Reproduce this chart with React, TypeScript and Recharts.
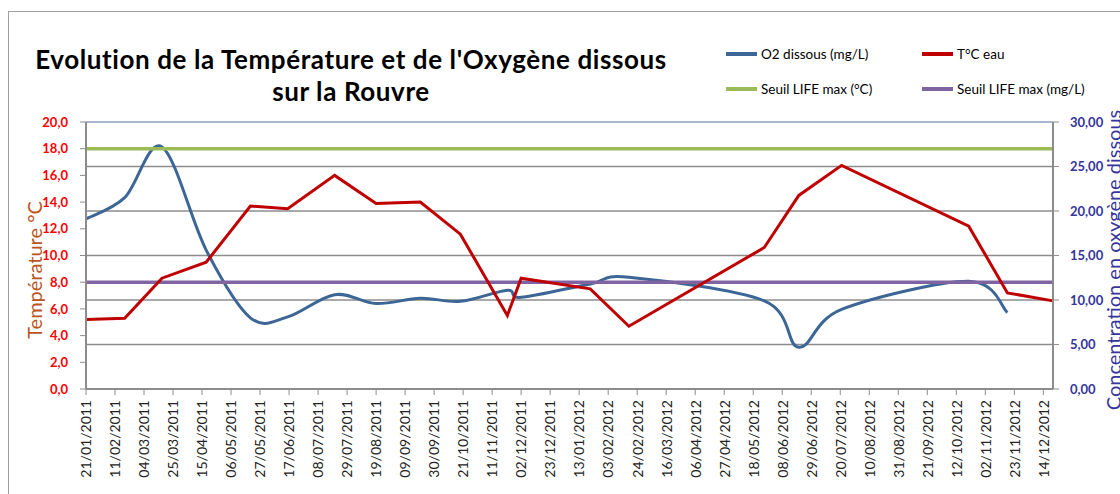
import React from 'react';
import { CartesianGrid, Line, LineChart, ReferenceLine, XAxis, YAxis } from 'recharts';

// dates de mesure (jj/mm/aaaa)
const DATES = [
  '21/01/2011', '18/02/2011', '17/03/2011', '18/04/2011', '20/05/2011', '16/06/2011', '20/07/2011',
  '19/08/2011', '20/09/2011', '19/10/2011', '22/11/2011', '02/12/2011', '21/01/2012', '18/02/2012',
  '26/05/2012', '20/06/2012', '21/07/2012', '21/10/2012', '18/11/2012', '21/12/2012',
];
const TEMP = [5.2, 5.3, 8.3, 9.5, 13.7, 13.5, 16.0, 13.9, 14.0, 11.6, 5.5, 8.3, 7.5, 4.7, 10.6, 14.5, 16.75, 12.2, 7.2, 6.6];
const O2 = [19.1, 21.5, 27.2, 15.6, 8.0, 8.1, 10.6, 9.6, 10.2, 9.85, 11.1, 10.3, 11.8, 12.55, 9.9, 4.7, 8.95, 12.1, 8.6];

const SEUIL_DATES = ['21/01/2011', '21/12/2012'];
const SEUIL_TEMP = [18, 18];
const SEUIL_O2 = [12, 12];

const TEMP_TICKS = [0, 2, 4, 6, 8, 10, 12, 14, 16, 18, 20];
const O2_TICKS = [0, 5, 10, 15, 20, 25, 30];
const X_LABELS = [
  '21/01/2011', '11/02/2011', '04/03/2011', '25/03/2011', '15/04/2011', '06/05/2011', '27/05/2011',
  '17/06/2011', '08/07/2011', '29/07/2011', '19/08/2011', '09/09/2011', '30/09/2011', '21/10/2011',
  '11/11/2011', '02/12/2011', '23/12/2011', '13/01/2012', '03/02/2012', '24/02/2012', '16/03/2012',
  '06/04/2012', '27/04/2012', '18/05/2012', '08/06/2012', '29/06/2012', '20/07/2012', '10/08/2012',
  '31/08/2012', '21/09/2012', '12/10/2012', '02/11/2012', '23/11/2012', '14/12/2012',
];
const TITLE = ["Evolution de la Température et de l'Oxygène dissous", 'sur la Rouvre'];

const FONT = 'Lato, "Open Sans", sans-serif';
const GRID = '#8C8C8C';
const BLUE = '#3B6696';
const RED = '#C00000';
const GREEN = '#9BBB59';
const PURPLE = '#8064A2';
const NAVY = '#35359A';

const toDay = (s: string) => {
  const [d, m, y] = s.split('/').map(Number);
  return Math.round((Date.UTC(y, m - 1, d) - Date.UTC(2011, 0, 21)) / 86400000);
};

const tempData = DATES.map((d, i) => ({ day: toDay(d), v: TEMP[i] }));
const o2Data = O2.map((v, i) => ({ day: toDay(DATES[i]), v }));
const seuilTempData = SEUIL_DATES.map((d, i) => ({ day: toDay(d), v: SEUIL_TEMP[i] }));
const seuilO2Data = SEUIL_DATES.map((d, i) => ({ day: toDay(d), v: SEUIL_O2[i] }));
const xTicks = X_LABELS.map(toDay);
const xLabel = new Map(X_LABELS.map((l) => [toDay(l), l]));

// lissage façon Excel (Bézier de Catmull-Rom)
const excelCurve = (context: any) => {
  let pts: [number, number][] = [];
  return {
    areaStart() {},
    areaEnd() {},
    lineStart() {
      pts = [];
    },
    point(x: number, y: number) {
      pts.push([x, y]);
    },
    lineEnd() {
      if (!pts.length) return;
      context.moveTo(pts[0][0], pts[0][1]);
      for (let i = 0; i < pts.length - 1; i++) {
        const p0 = pts[i - 1] || pts[i];
        const p1 = pts[i];
        const p2 = pts[i + 1];
        const p3 = pts[i + 2] || p2;
        context.bezierCurveTo(
          p1[0] + (p2[0] - p0[0]) / 6,
          p1[1] + (p2[1] - p0[1]) / 6,
          p2[0] - (p3[0] - p1[0]) / 6,
          p2[1] - (p3[1] - p1[1]) / 6,
          p2[0],
          p2[1],
        );
      }
    },
  };
};

const DateTick = ({ x, y, payload }: any) => (
  <text
    x={x}
    y={y}
    transform={`rotate(-90 ${x} ${y})`}
    textAnchor="end"
    dy="0.38em"
    fontSize={14}
    fontFamily={FONT}
    fill="#222"
  >
    {xLabel.get(payload.value)}
  </text>
);

const LEGEND = [
  { label: 'O2 dissous (mg/L)', color: BLUE, left: 726, top: 54 },
  { label: 'T°C eau', color: RED, left: 922, top: 54 },
  { label: 'Seuil LIFE max (°C)', color: GREEN, left: 726, top: 89 },
  { label: 'Seuil LIFE max (mg/L)', color: PURPLE, left: 922, top: 89 },
];

export default function App() {
  return (
    <div
      style={{
        position: 'absolute',
        left: 0,
        top: 0,
        width: 1120,
        height: 494,
        background: '#fff',
        overflow: 'hidden',
        fontFamily: FONT,
      }}
    >
      <div
        style={{
          position: 'absolute',
          left: 8,
          top: 11,
          width: 1300,
          height: 700,
          border: '1px solid #A0A0A0',
        }}
      />
      <LineChart width={1120} height={494} margin={{ top: 122, right: 0, bottom: 0, left: 0 }}>
        <CartesianGrid yAxisId="right" vertical={false} stroke={GRID} strokeWidth={1.3} />
        <ReferenceLine yAxisId="right" y={30} stroke="#A6BDDB" strokeWidth={1.5} />
        <XAxis
          type="number"
          dataKey="day"
          domain={[0, 700]}
          ticks={xTicks}
          interval={0}
          height={105}
          tick={<DateTick />}
          tickSize={6}
          tickMargin={5}
          axisLine={{ stroke: GRID, strokeWidth: 2 }}
          tickLine={{ stroke: GRID }}
        />
        <YAxis
          yAxisId="left"
          domain={[0, 20]}
          ticks={TEMP_TICKS}
          interval={0}
          width={86}
          tickFormatter={(v: number) => v.toFixed(1).replace('.', ',')}
          tick={{ fill: '#FF0000', fontSize: 13, fontWeight: 700, fontFamily: FONT }}
          tickSize={6}
          tickMargin={12}
          axisLine={{ stroke: GRID, strokeWidth: 2 }}
          tickLine={{ stroke: GRID }}
        />
        <YAxis
          yAxisId="right"
          orientation="right"
          domain={[0, 30]}
          ticks={O2_TICKS}
          interval={0}
          width={67}
          tickFormatter={(v: number) => v.toFixed(2).replace('.', ',')}
          tick={{ fill: NAVY, fontSize: 13, fontWeight: 700, fontFamily: FONT }}
          tickSize={6}
          tickMargin={11}
          axisLine={{ stroke: GRID, strokeWidth: 2 }}
          tickLine={{ stroke: GRID }}
        />
        <Line
          yAxisId="right"
          data={o2Data}
          dataKey="v"
          type={excelCurve as any}
          stroke={BLUE}
          strokeWidth={3}
          dot={false}
          isAnimationActive={false}
        />
        <Line
          yAxisId="left"
          data={seuilTempData}
          dataKey="v"
          type="linear"
          stroke={GREEN}
          strokeWidth={3.5}
          dot={false}
          isAnimationActive={false}
        />
        <Line
          yAxisId="right"
          data={seuilO2Data}
          dataKey="v"
          type="linear"
          stroke={PURPLE}
          strokeWidth={3.5}
          dot={false}
          isAnimationActive={false}
        />
        <Line
          yAxisId="left"
          data={tempData}
          dataKey="v"
          type="linear"
          stroke={RED}
          strokeWidth={3}
          dot={false}
          isAnimationActive={false}
        />
        <text
          x={42}
          y={270}
          transform="rotate(-90 42 270)"
          textAnchor="middle"
          fontSize={20}
          fontFamily={FONT}
          fill="#B9541F"
        >
          Température °C
        </text>
        <text
          x={1121}
          y={260}
          transform="rotate(-90 1121 260)"
          textAnchor="middle"
          fontSize={20}
          fontFamily={FONT}
          fill={NAVY}
        >
          Concentration en oxygène dissous
        </text>
      </LineChart>
      {TITLE.map((line, i) => (
        <div
          key={line}
          style={{
            position: 'absolute',
            left: 0,
            width: 702,
            top: 46 + i * 32,
            textAlign: 'center',
            fontSize: 26,
            lineHeight: '26px',
            letterSpacing: 0.6,
            fontWeight: 700,
            color: '#000',
            whiteSpace: 'nowrap',
          }}
        >
          {line}
        </div>
      ))}
      {LEGEND.map((it) => (
        <div key={it.label} style={{ position: 'absolute', left: it.left, top: it.top - 9, height: 18, display: 'flex', alignItems: 'center' }}>
          <div style={{ width: 31, height: 4, background: it.color, marginRight: 4 }} />
          <span style={{ fontSize: 13.5, color: '#000', whiteSpace: 'nowrap' }}>{it.label}</span>
        </div>
      ))}
    </div>
  );
}
